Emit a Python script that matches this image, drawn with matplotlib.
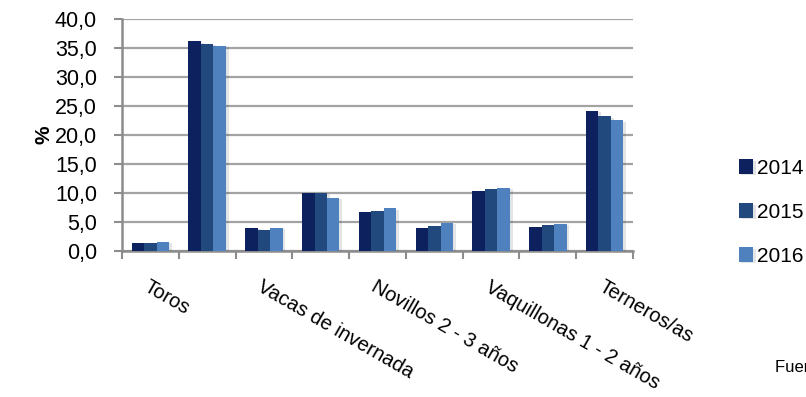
import matplotlib.pyplot as plt
import matplotlib.patheffects as pe
import numpy as np

plt.rcParams['font.family'] = ['Liberation Sans', 'DejaVu Sans']

categorias = ["Toros", "", "Vacas de invernada", "", "Novillos 2 - 3 años", "",
              "Vaquillonas 1 - 2 años", "", "Terneros/as"]
anios = ["2014", "2015", "2016"]
v2014 = [1.3, 36.1, 4.0, 10.0, 6.7, 3.9, 10.3, 4.1, 24.1]
v2015 = [1.3, 35.7, 3.6, 10.0, 6.8, 4.3, 10.6, 4.4, 23.2]
v2016 = [1.5, 35.3, 4.0, 9.1, 7.3, 4.8, 10.8, 4.6, 22.5]
colores = ["#0c215e", "#22497d", "#4e81bd"]

fig = plt.figure(figsize=(8.06, 3.97), dpi=100)
ax = fig.add_axes([0.1514, 0.3685, 0.634, 0.584])

x = np.arange(len(categorias))
ancho = 0.22
sombra = [pe.SimplePatchShadow(offset=(2, -1), alpha=0.12), pe.Normal()]
for i, (serie, col) in enumerate(zip([v2014, v2015, v2016], colores)):
    ax.bar(x + (i - 1) * ancho, serie, ancho, color=col, label=anios[i],
           zorder=3, path_effects=sombra)

ax.set_xlim(-0.5, len(categorias) - 0.5)
ax.set_ylim(0, 40)
ax.set_yticks(np.arange(0, 41, 5))
ax.set_yticklabels([f"{v:.1f}".replace(".", ",") for v in np.arange(0, 41, 5)], fontsize=15.5)
ax.yaxis.grid(True, color="#a3a3a3", linewidth=1.6, zorder=0)
ax.set_axisbelow(True)

ax.set_xticks(x)
ax.set_xticklabels(categorias, fontsize=14.5, rotation=-30, ha="left",
                   va="top", rotation_mode="anchor")
ax.tick_params(axis="x", which="major", length=0, pad=19)
ax.set_xticks(np.arange(-0.5, len(categorias)), minor=True)
ax.tick_params(axis="x", which="minor", length=6, width=1.5, color="#8c8c8c", direction="out")
ax.tick_params(axis="y", length=6, width=1.5, color="#8c8c8c", pad=12)

for s in ["top", "right"]:
    ax.spines[s].set_visible(False)
for s in ["left", "bottom"]:
    ax.spines[s].set_color("#8c8c8c")
    ax.spines[s].set_linewidth(1.8)

ax.set_ylabel("%", fontsize=15, fontweight="bold", va="center")
ax.yaxis.set_label_coords(-0.152, 0.5)

ax.legend(loc="center left", bbox_to_anchor=(1.17, 0.165), frameon=False,
          fontsize=15, handlelength=0.68, handleheight=0.68, handletextpad=0.22,
          labelspacing=1.2)

fig.text(0.962, 0.055, "Fuente: MGAP - DIEA", fontsize=12, ha="left", va="bottom")

fig.savefig("out.png", dpi=100)
